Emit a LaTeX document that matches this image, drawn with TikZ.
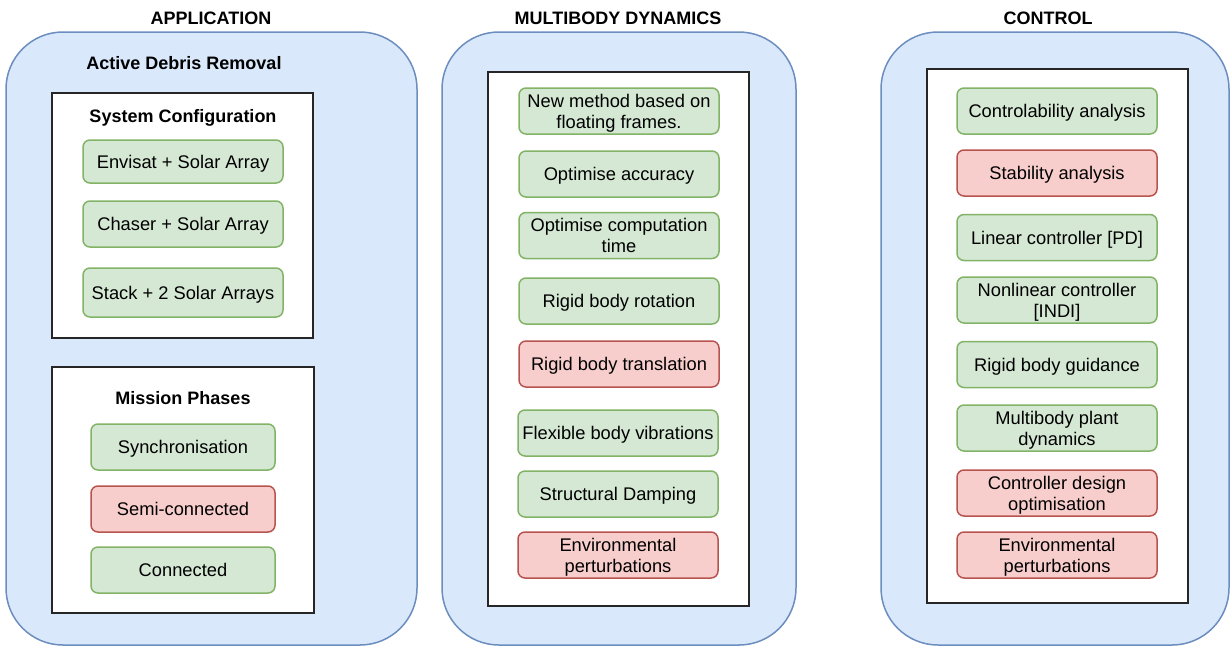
\documentclass[tikz,border=0pt]{standalone}
\usepackage{fontspec}
\setmainfont{Liberation Sans}
\usepackage{tikz}
\usepackage{xcolor}
\usetikzlibrary{positioning}
\definecolor{panelfill}{HTML}{DAE8FC}
\definecolor{paneldraw}{HTML}{6C8EBF}
\definecolor{donefill}{HTML}{D5E8D4}
\definecolor{donedraw}{HTML}{82B366}
\definecolor{todofill}{HTML}{F8CECC}
\definecolor{tododraw}{HTML}{B85450}
\tikzset{
    panel/.style={fill=panelfill, draw=paneldraw, line width=1.5pt, rounded corners=57pt},
    group/.style={fill=white, draw=black!85, line width=1.6pt},
    item/.style={rounded corners=7pt, line width=1.5pt, minimum width=200pt, minimum height=46pt,
        align=center, inner sep=0pt, text depth=0pt, font=\fontsize{18.3}{21}\selectfont},
    done/.style={item, fill=donefill, draw=donedraw},
    todo/.style={item, fill=todofill, draw=tododraw},
    heading/.style={font=\fontsize{18}{21}\selectfont\bfseries}
}

\begin{document}
\begin{tikzpicture}[x=1pt, y=-1pt]
                        \useasboundingbox (0, 0) rectangle (1231, 646);
                        \node[heading] (appt) at (211, 18) {APPLICATION};
                        \node[heading] (mbdt) at (618, 18) {MULTIBODY DYNAMICS};
                        \node[heading] (ctrlt) at (1048, 18) {CONTROL};
                        \draw[panel] (6, 32) rectangle (417, 645);
                        \draw[panel] (442, 32) rectangle (796, 645);
                        \draw[panel] (881, 32) rectangle (1229, 645);
                        \draw[group] (52, 93) rectangle (313, 338);
                        \draw[group] (52, 367) rectangle (314, 613);
                        \draw[group] (488, 72) rectangle (749, 606);
                        \draw[group] (927, 69) rectangle (1188, 603);
                        % application
                        \node[heading] (adr) at (184, 63) {Active Debris Removal};
                        \node[heading] (syscfg) at (183, 118) {System Configuration};
                        \node[done, minimum height=43pt] (envisat) at (183, 161.5) {Envisat + Solar Array};
                        \node[done] (chaser) at (183, 224) {Chaser + Solar Array};
                        \node[done, minimum height=49pt] (stack) at (183, 292.5) {Stack + 2 Solar Arrays};
                        \node[heading] (phases) at (183, 398) {Mission Phases};
                        \node[done, minimum width=184pt] (sync) at (183, 447) {Synchronisation};
                        \node[todo, minimum width=184pt] (semi) at (183, 509) {Semi-connected};
                        \node[done, minimum width=184pt] (conn) at (183, 570) {Connected};
                        % multibody dynamics
                        \node[done] (newm) at (619, 111) {New method based on\\floating frames.};
                        \node[done] (optacc) at (619, 174) {Optimise accuracy};
                        \node[done] (opttime) at (619, 235.5) {Optimise computation\\time};
                        \node[done] (rrot) at (619, 301) {Rigid body rotation};
                        \node[todo] (rtrans) at (619, 364) {Rigid body translation};
                        \node[done] (flex) at (618, 433) {Flexible body vibrations};
                        \node[done] (damp) at (618, 494) {Structural Damping};
                        \node[todo] (envm) at (618, 555) {Environmental\\perturbations};
                        % control
                        \node[done] (cana) at (1057, 111) {Controlability analysis};
                        \node[todo] (sana) at (1057, 173) {Stability analysis};
                        \node[done] (lin) at (1057, 237.5) {Linear controller [PD]};
                        \node[done] (nonlin) at (1057, 300) {Nonlinear controller\\{[INDI]}};
                        \node[done] (guid) at (1057, 364.5) {Rigid body guidance};
                        \node[done] (plant) at (1057, 428) {Multibody plant\\dynamics};
                        \node[todo] (cdes) at (1057, 493) {Controller design\\optimisation};
                        \node[todo] (envc) at (1057, 555) {Environmental\\perturbations};
                    \end{tikzpicture}
\end{document}
